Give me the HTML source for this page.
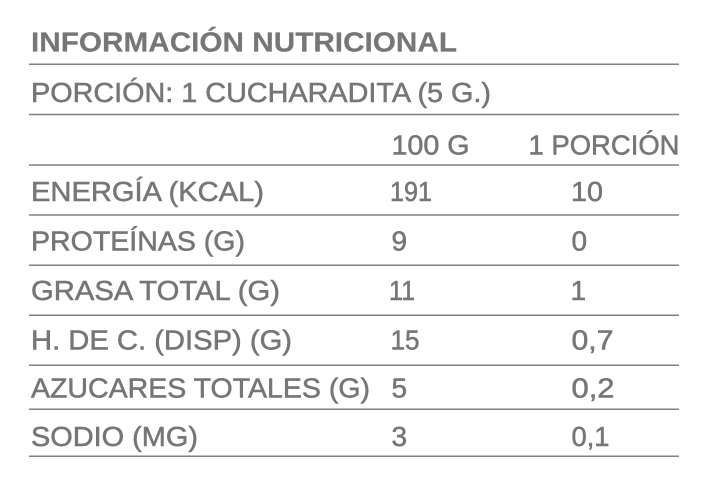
<!DOCTYPE html>
<html>
<head>
<meta charset="utf-8">
<style>
  html, body { margin:0; padding:0; background:#ffffff; }
  body { width:718px; height:486px; overflow:hidden; }
  svg { display:block; }
  text { font-family: "Liberation Sans", "DejaVu Sans", sans-serif; fill:#767676; font-size:28px; stroke:#767676; stroke-width:0.55px; }
  .b { font-weight:bold; stroke-width:0.2px; }
</style>
</head>
<body>
<svg width="718" height="486" viewBox="0 0 718 486" xmlns="http://www.w3.org/2000/svg">
  <rect width="718" height="486" fill="#ffffff"/>
  <g stroke="#808080" stroke-width="1.5">
    <line x1="29" y1="64.3" x2="679" y2="64.3"/>
    <line x1="29" y1="114.5" x2="679" y2="114.5"/>
    <line x1="29" y1="165" x2="679" y2="165"/>
    <line x1="29" y1="215" x2="679" y2="215"/>
    <line x1="29" y1="265.3" x2="679" y2="265.3"/>
    <line x1="29" y1="315.3" x2="679" y2="315.3"/>
    <line x1="29" y1="365.3" x2="679" y2="365.3"/>
    <line x1="29" y1="409.3" x2="679" y2="409.3"/>
    <line x1="29" y1="456.3" x2="679" y2="456.3"/>
  </g>

  <text class="b" x="31" y="51.7" textLength="426" lengthAdjust="spacingAndGlyphs">INFORMACIÓN NUTRICIONAL</text>
  <text x="31" y="102" textLength="460" lengthAdjust="spacingAndGlyphs">PORCIÓN: 1 CUCHARADITA (5 G.)</text>

  <text x="391.5" y="154.3" textLength="78" lengthAdjust="spacingAndGlyphs">100 G</text>
  <text x="528.5" y="154.3" textLength="151" lengthAdjust="spacingAndGlyphs">1 PORCIÓN</text>

  <text x="31" y="201" textLength="233" lengthAdjust="spacingAndGlyphs">ENERGÍA (KCAL)</text>
  <text x="390" y="201" textLength="42" lengthAdjust="spacingAndGlyphs">191</text>
  <text x="571" y="201" textLength="32" lengthAdjust="spacingAndGlyphs">10</text>

  <text x="31" y="250.5" textLength="214" lengthAdjust="spacingAndGlyphs">PROTEÍNAS (G)</text>
  <text x="391.5" y="250.5">9</text>
  <text x="571.5" y="250.5">0</text>

  <text x="31" y="300" textLength="249" lengthAdjust="spacingAndGlyphs">GRASA TOTAL (G)</text>
  <text x="389" y="300" textLength="26" lengthAdjust="spacingAndGlyphs">11</text>
  <text x="570.5" y="300">1</text>

  <text x="31" y="349.5" textLength="261" lengthAdjust="spacingAndGlyphs">H. DE C. (DISP) (G)</text>
  <text x="390.5" y="349.5" textLength="29" lengthAdjust="spacingAndGlyphs">15</text>
  <text x="571.5" y="349.5" textLength="42" lengthAdjust="spacingAndGlyphs">0,7</text>

  <text x="31" y="397.7" textLength="339" lengthAdjust="spacingAndGlyphs">AZUCARES TOTALES (G)</text>
  <text x="391.5" y="397.7">5</text>
  <text x="571.5" y="397.7" textLength="43" lengthAdjust="spacingAndGlyphs">0,2</text>

  <text x="31" y="446" textLength="167" lengthAdjust="spacingAndGlyphs">SODIO (MG)</text>
  <text x="391.5" y="446">3</text>
  <text x="571.5" y="446" textLength="38" lengthAdjust="spacingAndGlyphs">0,1</text>
</svg>
</body>
</html>
